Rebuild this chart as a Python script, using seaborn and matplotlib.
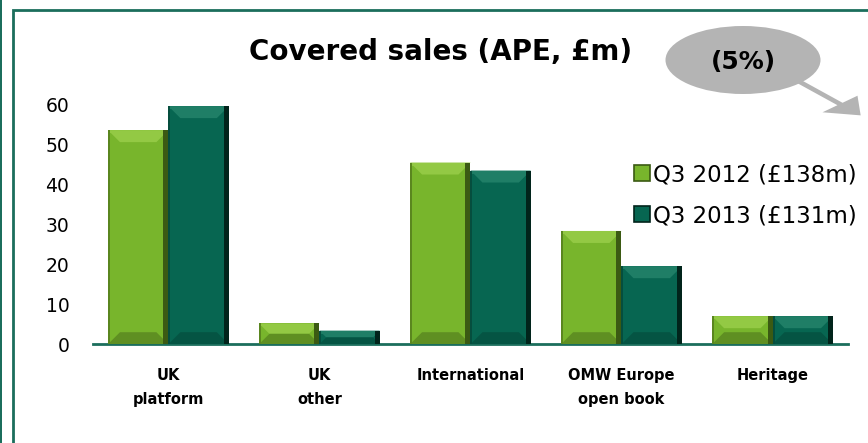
import pandas as pd
import matplotlib.pyplot as plt
import seaborn as sns
from matplotlib.patches import Ellipse, Rectangle, Polygon, FancyArrow
from matplotlib.lines import Line2D

categories = ["UK\nplatform", "UK\nother", "International", "OMW Europe\nopen book", "Heritage"]
q3_2012 = [53.5, 5.2, 45.4, 28.3, 7.0]
q3_2013 = [59.5, 3.4, 43.4, 19.5, 7.0]
series = ["Q3 2012 (£138m)", "Q3 2013 (£131m)"]

df = pd.DataFrame({
    "category": categories * 2,
    "period": [series[0]] * len(categories) + [series[1]] * len(categories),
    "value": q3_2012 + q3_2013,
})

green = "#78b52c"
teal = "#076651"
# face, top, bottom, left edge, right edge
shades = {
    green: ["#78b52c", "#93c944", "#5f8f22", "#5a861f", "#3b5a13"],
    teal: ["#076651", "#1f7e66", "#055443", "#054e3e", "#01241b"],
}

sns.set_style("white")
plt.rcParams["font.family"] = ["DejaVu Sans"]
plt.rcParams["text.color"] = "black"
plt.rcParams["xtick.color"] = "black"
plt.rcParams["ytick.color"] = "black"

fig = plt.figure(figsize=(8.68, 4.43), dpi=100)
ax = fig.add_axes([0.107, 0.223, 0.87, 0.542])

sns.barplot(data=df, x="category", y="value", hue="period",
            palette=[green, teal], width=0.8, ax=ax, legend=False,
            saturation=1, edgecolor="none")

ax.set_ylim(0, 60)
ax.set_xlim(-0.5, len(categories) - 0.5)
ax.set_yticks(range(0, 61, 10))
ax.tick_params(axis="y", labelsize=13.5, length=0, pad=17)
ax.tick_params(axis="x", labelsize=10.5, length=0, pad=17)
for lbl in ax.get_xticklabels():
    lbl.set_fontweight("bold")
    lbl.set_linespacing(1.75)
ax.set_xlabel("")
ax.set_ylabel("")
sns.despine(ax=ax, left=True)
ax.spines["bottom"].set_color("#1b6e5c")
ax.spines["bottom"].set_linewidth(2)

# bevel effect drawn from the bar patches
fig.canvas.draw()
inv = ax.transData.inverted()
for p in list(ax.patches):
    x0, y0 = p.get_x(), p.get_y()
    w, h = p.get_width(), p.get_height()
    if h <= 0:
        continue
    fc = p.get_facecolor()
    col = green if fc[1] > 0.6 else teal
    face, top, bot, ledge, redge = shades[col]
    px0, py0 = ax.transData.transform((x0, y0))
    px1, py1 = ax.transData.transform((x0 + w, y0 + h))
    b = min(12, (py1 - py0) / 2)
    pts = lambda arr: [tuple(inv.transform(a)) for a in arr]
    ax.add_patch(Polygon(pts([(px0, py1), (px1, py1), (px1 - b, py1 - b), (px0 + b, py1 - b)]),
                         closed=True, fc=top, ec="none", zorder=3))
    ax.add_patch(Polygon(pts([(px0, py1 - 1), (px1, py1 - 1), (px1, py1 - 3), (px0, py1 - 3)]),
                         closed=True, fc=top, ec="none", zorder=3, alpha=0.9))
    ax.add_patch(Polygon(pts([(px0, py0), (px1, py0), (px1 - b, py0 + b), (px0 + b, py0 + b)]),
                         closed=True, fc=bot, ec="none", zorder=3))
    ax.add_patch(Polygon(pts([(px0, py0), (px0 + 2, py0), (px0 + 2, py1), (px0, py1)]),
                         closed=True, fc=ledge, ec="none", zorder=4))
    ax.add_patch(Polygon(pts([(px1 - 5, py0), (px1, py0), (px1, py1), (px1 - 5, py1)]),
                         closed=True, fc=redge, ec="none", zorder=4))

# legend
handles = [Line2D([], [], marker="s", linestyle="none", markersize=11,
                  markerfacecolor=c, markeredgecolor=shades[c][4], markeredgewidth=1.2)
           for c in (green, teal)]
fig.legend(handles, series, loc="upper left", bbox_to_anchor=(0.718, 0.652),
           frameon=False, fontsize=16.5, handletextpad=0.12, labelspacing=0.78,
           handlelength=0.8, borderaxespad=0)

# title
fig.text(0.508, 0.882, "Covered sales (APE, £m)", ha="center", va="center",
         fontsize=20, fontweight="bold")

# callout bubble with arrow
fig.patches.append(Ellipse((743 / 868, 1 - 60 / 443), 155 / 868, 68 / 443,
                           transform=fig.transFigure, fc="#b4b4b4", ec="none", zorder=1))
fig.text(743 / 868, 1 - 62 / 443, "(5%)", ha="center", va="center",
         fontsize=18, fontweight="bold", zorder=2)
fig.patches.append(FancyArrow(800 / 868, 1 - 82 / 443, 40 / 868, -22 / 443,
                              width=0.008, head_width=0.055, head_length=0.035,
                              length_includes_head=False, transform=fig.transFigure,
                              fc="#b4b4b4", ec="none"))

# slide frame
fig.patches.append(Rectangle((13 / 868, -0.05), 1.0, 1 - 10 / 443 + 0.05,
                             transform=fig.transFigure, fill=False,
                             ec="#1b6e5c", lw=2))
fig.patches.append(Rectangle((0.5 / 868, -0.05), 0.0, 1.1,
                             transform=fig.transFigure, fill=False,
                             ec="#1b6e5c", lw=1.2))

fig.savefig("out.png", dpi=100)
